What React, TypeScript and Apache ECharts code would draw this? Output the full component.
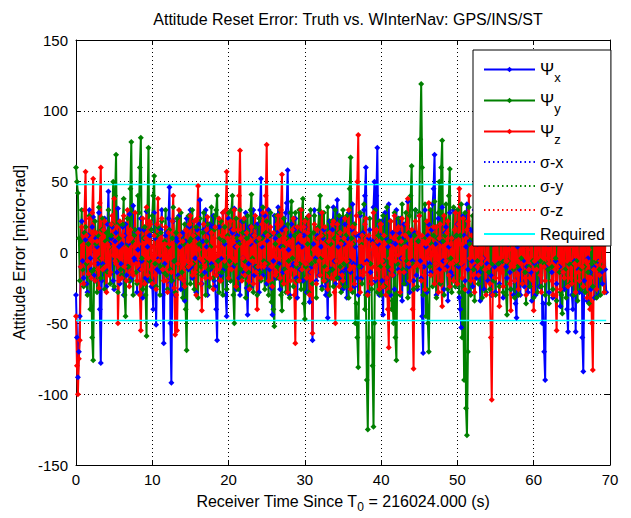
import React, { useEffect, useRef } from 'react';
import * as echarts from 'echarts';

// Sample spacing of the recorded reset errors (s)
const T_STEP = 0.125;

const TITLE = 'Attitude Reset Error: Truth vs. WInterNav: GPS/INS/ST';
const X_NAME = '{n|Receiver Time Since T}{s|0}{n| = 216024.000 (s)}';
const Y_NAME = 'Attitude Error [micro-rad]';

const LEGEND_NAMES = ['Ψx', 'Ψy', 'Ψz', 'σ-x', 'σ-y', 'σ-z', 'Required'];

// Ψx (blue) attitude reset error, micro-rad (one row = 5 s)
const PSI_X = [
  -30, -60, -88, -70, -45, -10, 22, -6, -18, 14, 9, -22, -28, 12, 30, -4, -12, 18, 25, -16, -20, 10, 4, -8, 28, -40, -78, -20, -8, 16, 24, -12, -24, 20, 43, 6, -15, 10, 18, -20,
  -26, 8, 14, -14, 31, 4, -22, -8, 6, 18, -30, 12, 20, -16, -10, 6, 27, -20, -18, 10, 33, -4, -6, 14, -28, 2, 16, -12, 24, -6, -32, 16, 10, -18, 29, 4, -20, 12, 12, -24,
  -24, -40, 28, 10, -51, -12, 18, -4, -14, 16, 30, -30, -64, -8, 12, 14, -20, 24, 46, -50, -92, -20, 22, -6, -30, 10, 8, -16, 26, 4, -26, 12, 14, -20, -34, 8, 24, -10, -12, 18,
  30, -10, -18, 12, 22, -4, -28, 16, 10, 20, 37, -6, -22, 8, 16, -14, 30, 4, -30, 14, 20, -12, -8, 18, 26, -20, -24, -40, -62, -6, 18, 10, -16, -4, 28, -12, 6, -30, -45, 10,
  24, -6, -20, 16, 14, -10, 31, 4, -26, 12, 8, -18, -30, 10, 22, -4, -14, 14, 28, -25, -44, -8, 18, 6, -24, 12, 30, -16, -10, 8, 20, -12, -28, 30, 52, 4, -16, 12, 26, -10,
  -22, 8, 30, -12, 12, -25, -44, -6, 26, 10, -18, 14, 32, -8, -26, 4, 16, -14, -12, 18, 28, 35, 58, 2, -30, 12, 20, -10, -8, 16, 24, -18, -32, 6, 14, -12, 30, 4, -20, 12,
  18, -8, -28, 14, 26, -35, -14, -10, -62, 6, 30, -4, -20, 12, 10, -16, 28, 4, -24, 10, 16, -20, -30, -20, -46, 8, 22, -12, -12, 16, 32, -6, -22, 20, 37, 4, -18, 10, 24, -14,
  -26, 6, 20, -12, -32, 10, 28, -6, -14, 16, 34, -8, -24, 4, 12, -18, -30, 12, 26, -10, -18, 14, 30, 40, 60, -6, -28, 10, 16, -14, -22, 8, 32, 50, -20, 40, 74, 6, -30, 12,
  22, -20, -44, -6, 28, 10, -18, 4, 34, -12, -30, 8, 14, -16, -26, 6, 30, -8, -12, 14, 24, -4, -34, 10, 20, -14, -22, 6, 36, -10, -28, 12, 16, -6, -20, 14, 30, -16, -26, 8,
  26, -6, -18, -45, -71, -10, 30, 4, -28, 12, 20, -8, -14, 16, 34, 45, 69, 6, -30, 10, 24, -12, -22, 8, 32, -6, -26, 14, 18, -10, -34, 4, 28, -14, -16, 10, 30, -8, -24, 12,
  20, -10, -32, -40, -53, -8, 26, 12, -20, 4, 34, -12, -28, 8, 16, -6, -24, 14, 30, -10, -18, 6, 28, -14, -34, 10, 22, -4, -26, 16, 32, -8, -20, 12, 24, -16, -30, 6, 18, -10,
  -28, 10, 26, -8, -22, 14, 30, -6, -32, 12, 20, -10, -18, 6, 28, -14, -26, 10, 34, -30, -20, -36, -46, 4, 24, -12, -30, 8, 18, -6, -24, 16, 32, -10, -28, 6, 22, -14, -34, 10,
  26, -8, -30, 12, 20, -6, -24, 14, 30, -50, -36, -70, -90, -10, 24, 6, -28, 12, 18, -14, -32, 8, 26, -6, -22, 14, 30, -10, -38, 6, 20, -14, -26, 10, 28, -40, -56, -8, 22, 12,
  -30, -40, 24, -6, -56, 8, 18, -12, -28, 6, 30, -60, -84, -20, 22, 10, -34, -4, 20, -14, -26, 8, 28, -10, -32, 12, 16, -6, -30, 10, 24, -14, -22, 8, 26, -12, -28,
];

// Ψy (green) attitude reset error, micro-rad (one row = 5 s)
const PSI_Y = [
  60, 50, 42, 10, -20, 8, 30, -12, -24, 14, 18, -8, -30, 6, 26, -40, -14, -60, -76, -12, 22, 6, -28, 12, 32, -4, -18, 16, 24, -10, -26, 8, 14, -14, 30, 4, -22, 12, 20, 50,
  -24, 40, 69, -6, -28, 10, 20, -12, -16, 20, 38, -30, -45, 4, 24, -10, -20, 45, 78, 8, -30, 12, 16, -14, -22, 40, 28, 60, 81, -4, -26, 10, 18, -30, -59, 30, 74, -6, -20, 16,
  26, 40, 54, -8, -24, 12, 18, -6, -30, 14, 22, -10, -14, 8, 30, -16, -26, 4, 16, -12, -20, 10, 32, -6, -28, 14, 24, -8, -18, 12, 28, -14, -32, 6, 20, -40, -69, -10, 26, 8,
  -22, 10, 30, -8, -26, 12, 18, -14, -32, 6, 24, -10, -16, 14, 28, -6, -30, 8, 20, -12, -24, 4, 32, -10, -18, 16, 26, 30, 40, -6, -28, 10, 22, -14, -30, 8, 18, -10, -26, 12,
  28, -6, -20, 30, 40, -30, -50, -8, 24, 10, -26, 6, 30, -12, -18, 14, 22, -6, -32, 10, 26, -14, -24, 30, 41, -4, -28, 12, 18, -10, -30, 8, 24, -14, -20, 10, 32, -6, -26, 14,
  22, -8, -30, 12, 28, -35, -22, -40, -52, 6, 26, -10, -18, 12, 30, -30, -41, 4, 24, -12, -28, 10, 20, -6, -32, 28, 36, -4, -24, 12, 28, -10, -20, 14, 30, -8, -26, 30, 38, -36,
  -47, -10, 24, 6, -28, 12, 30, -8, -22, 14, 26, -6, -32, 10, 18, 30, 40, -4, -26, 12, 28, -10, -20, 8, 32, -14, -30, 6, 22, -12, -24, 10, 30, -6, -18, 14, 26, -10, -28, 8,
  30, -8, -24, 12, 26, -6, -32, 45, 67, 10, -28, 6, 20, -50, -36, -60, -81, -10, 28, 6, -22, 12, 34, -40, -30, -90, -125, -60, 24, -8, -26, -80, -123, -50, 30, 8, -28, 12, 22, -10,
  -30, 10, 26, -6, -24, 12, 32, -10, -28, 8, 22, -40, -34, -50, 28, -60, -76, -8, 24, 10, -30, 6, 34, -12, -22, 8, 28, -6, -32, 14, 26, 40, 61, -8, -26, 12, 30, -10, -24, 8,
  28, 80, 119, 60, -30, 10, 34, -45, -26, -50, -70, -10, 30, 6, -24, 12, 36, -8, -32, 10, 28, 50, -22, 60, 79, 8, -30, 12, 34, -6, -26, 40, 59, -4, -28, 10, 32, -8, -24, 12,
  30, -8, -28, 12, 34, -60, -24, -90, 28, -110, -129, -70, 32, 6, -30, 10, 26, -12, -34, 8, 30, -6, -22, 14, 28, -10, -32, 8, 24, -12, -28, 6, 34, -14, -26, 10, 30, -8, -20, 12,
  -30, 10, 26, -8, -24, 12, 32, -6, -28, 14, 22, -30, -44, -6, 30, 10, -26, 8, 28, -12, -32, 6, 24, -10, -30, 12, 34, -4, -22, 10, 26, -14, -36, 8, 30, -10, -24, 12, 28, -6,
  -32, 8, 26, -10, -28, 12, 30, -6, -24, 10, 34, -8, -30, 14, 22, -12, -36, 6, 28, -10, -26, 12, 30, -4, -34, 8, 24, -14, -28, -30, -43, 6, 26, -12, -32, 10, 30, -8, -22, 12,
  28, -8, -30, 12, 24, -6, -34, 10, 30, -12, -26, 8, 32, -10, -28, 6, 22, -14, -36, 10, 30, -8, -24, 12, 28, -6, -32, 10, 26, -12, -30, 8, 24, -10, -28, 12, 30,
];

// Ψz (red) attitude reset error, micro-rad (one row = 5 s)
const PSI_Z = [
  -45, -80, -100, -75, -62, -10, 18, 5, -22, 30, 57, 12, -6, -15, 24, 2, -18, 28, 52, -8, -20, 14, 8, -12, -25, 35, 60, -4, -12, 16, 22, -10, -28, 6, 4, -16, -14, 20, 26, -2,
  38, -6, -8, 18, -50, -20, 22, -4, -18, 12, 26, -10, 3, -20, 30, 8, -24, 16, 10, -14, -16, 4, 28, -8, -20, 14, 6, -30, -55, -12, 24, 6, -22, 10, 32, -16, -4, 22, 20, -12,
  -22, 4, 12, -16, -26, 20, 38, -6, -2, 10, 24, -12, -20, 6, 18, -20, -28, 14, 6, -4, -14, 22, 40, -25, -58, -30, -55, -8, 30, 12, -18, -2, 8, -20, -24, 16, 15, -6, -10, 20,
  26, -8, -16, 12, 22, -14, -30, 24, 47, 2, -4, -22, -41, -6, 20, -10, -18, 16, 25, -4, 2, -18, 14, 8, -26, 10, 18, -16, -12, 4, 24, -20, -20, 12, 28, -2, -6, 30, 57, 10,
  -18, 8, 22, -12, -4, 16, 30, -6, -24, 4, 16, 40, 72, 10, -20, -4, 24, -16, -12, 14, 6, -20, -26, 8, 18, -6, -22, 12, 26, -14, -40, -10, 10, 6, -18, 20, 28, -10, -8, 40,
  76, 12, -20, 6, 18, -10, -24, 14, 2, -16, -14, 20, 26, -4, -18, 30, 55, 2, -22, 10, 16, -14, -28, 6, 8, -20, -12, 16, 24, -30, -64, -8, 18, 4, -20, 12, 30, -12, -6, 18,
  22, -8, -18, 14, 26, -30, -4, -14, -57, 2, 20, -10, -22, 16, 10, -6, -16, 12, 28, -2, -20, 18, 4, -12, -26, 8, 14, -4, -18, 20, 22, -28, -50, -6, 20, 10, -24, 14, 6, -16,
  -20, 10, 24, -4, -6, 16, 30, -12, -26, 6, 18, -10, -22, 14, 26, 50, 83, 8, -28, 4, 12, -16, -14, 20, 24, -8, -30, 12, 2, -18, -22, 6, 28, -10, -18, 16, 8, -12, -26, 20,
  20, -6, -24, 12, 6, -30, -18, -40, -67, -4, 22, -12, -16, 10, 26, -6, -2, 16, 18, -14, -28, 8, 24, -4, -14, 12, 4, 20, 38, -8, -20, 6, 16, -40, -82, -10, 22, 4, -8, 14,
  26, -10, -20, 12, 8, -16, -26, 6, 22, -4, 35, 10, -16, -2, 4, 18, -22, -8, 18, -14, -28, 10, 20, -20, -38, 4, 26, -12, -6, 14, 22, -16, -24, 6, 10, -8, -20, 16, 28, -6,
  -22, 20, 45, 6, -8, -18, 24, -6, -26, 10, 16, 22, 40, -4, -20, 12, 4, -16, -28, 8, 18, -10, -16, 14, 26, -8, -4, 16, 20, -12, -30, 6, 16, -10, -22, -60, -104, -30, 24, -6,
  -18, 10, 6, -12, -38, -4, 20, -14, -24, 8, 26, -6, -6, 14, 18, -22, -41, 2, 22, -10, -20, 12, 8, -16, -26, 6, 16, -8, -22, 14, 24, -18, -30, 4, 2, -12, -18, 10, 26, -20,
  -41, -6, 20, -12, -4, 10, 18, -16, -28, 6, 26, -10, -20, 12, 22, -4, -8, 16, 24, -20, -30, 8, 18, -30, -55, -10, 6, 12, -26, 4, 20, -14, -18, 10, 28, -6, -24, 14, 4, -18,
  -22, 10, 24, -8, -28, 12, 8, -14, -20, 6, 26, -10, -24, 14, 22, -6, -32, 4, 2, -40, -18, -50, -83, -12, 24, -4, -26, 10, 18, -16, -6, 12, 20, -10, -28, 6, 16,
];

// Requirement bound (micro-rad) and its time span (s)
const REQUIRED = 48;
const REQ_SPAN = [0, 69.5];

const FONT = '"Liberation Sans", Arial, Helvetica, sans-serif';

const BLUE = '#0000ff';
const GREEN = '#008000';
const RED = '#ff0000';
const CYAN = '#00ffff';
const CLEAR = 'rgba(0,0,0,0)';

function toPairs(vals: number[]) {
  return vals.map((v, i) => [i * T_STEP, v]);
}

function psiSeries(name: string, vals: number[], color: string) {
  return {
    name,
    type: 'line',
    data: toPairs(vals),
    xAxisIndex: 0,
    yAxisIndex: 0,
    symbol: 'diamond',
    symbolSize: 6,
    showSymbol: true,
    showAllSymbol: true,
    lineStyle: { color, width: 2 },
    itemStyle: { color, borderWidth: 0 },
    emphasis: { disabled: true },
    silent: true,
  };
}

function sigmaSeries(name: string, color: string) {
  return {
    name,
    type: 'line',
    data: [],
    symbol: 'none',
    lineStyle: { color, width: 1.5, type: [1.5, 3] },
    itemStyle: { color: CLEAR },
    emphasis: { disabled: true },
    silent: true,
  };
}

function reqSeries(sign: number) {
  return {
    name: 'Required',
    type: 'line',
    data: REQ_SPAN.map((t) => [t, sign * REQUIRED]),
    symbol: 'none',
    lineStyle: { color: CYAN, width: 1.5 },
    itemStyle: { color: CLEAR },
    emphasis: { disabled: true },
    silent: true,
    z: 3,
  };
}

const legendFormatter = (name: string) => {
  if (name.startsWith('Ψ')) return `{p|Ψ}{s|${name.slice(1)}}`;
  return `{t|${name}}`;
};

export default function App() {
  const ref = useRef<HTMLDivElement>(null);
  useEffect(() => {
    if (!ref.current) return;
    const chart = echarts.init(ref.current, undefined, { renderer: 'svg' });
    const axisCommon = {
      axisLine: { show: true, onZero: false, lineStyle: { color: '#000', width: 1 } },
      axisTick: { show: true, inside: true, length: 5, lineStyle: { color: '#000' } },
    };
    chart.setOption({
      animation: false,
      backgroundColor: '#fff',
      title: {
        text: TITLE,
        left: 343,
        top: 6,
        textAlign: 'center',
        textStyle: { fontSize: 16, fontWeight: 'normal', color: '#000', fontFamily: FONT },
      },
      grid: { left: 76, right: 21, top: 40, bottom: 50, show: false },
      legend: {
        data: LEGEND_NAMES,
        orient: 'vertical',
        left: 473,
        top: 50,
        backgroundColor: '#fff',
        borderColor: '#000',
        borderWidth: 1,
        borderRadius: 0,
        padding: [11, 6, 4, 10],
        itemGap: 8,
        itemWidth: 51,
        itemHeight: 7,
        formatter: legendFormatter,
        textStyle: {
          color: '#000',
          fontFamily: FONT,
          rich: {
            p: { fontSize: 17, lineHeight: 26, verticalAlign: 'middle', fontFamily: FONT, color: '#000' },
            s: { fontSize: 13, verticalAlign: 'middle', padding: [16, 0, 0, 0], fontFamily: FONT, color: '#000' },
            t: { fontSize: 16, lineHeight: 20, fontFamily: FONT, color: '#000' },
          },
        },
      },
      xAxis: [
        {
          type: 'value',
          min: 0,
          max: 70,
          interval: 10,
          position: 'bottom',
          ...axisCommon,
          axisLabel: { color: '#000', fontSize: 15, margin: 7, fontFamily: FONT },
          splitLine: { show: true, lineStyle: { color: '#000', width: 1, type: [1, 3] } },
          name: X_NAME,
          nameLocation: 'middle',
          nameGap: 24,
          nameTextStyle: {
            color: '#000',
            fontFamily: FONT,
            rich: {
              n: { fontSize: 16, fontFamily: FONT, color: '#000', verticalAlign: 'middle' },
              s: { fontSize: 12, fontFamily: FONT, color: '#000', verticalAlign: 'middle', padding: [12, 0, 0, 0] },
            },
          },
        },
        {
          type: 'value',
          min: 0,
          max: 70,
          interval: 10,
          position: 'top',
          ...axisCommon,
          axisLabel: { show: false },
          splitLine: { show: false },
        },
      ],
      yAxis: [
        {
          type: 'value',
          min: -150,
          max: 150,
          interval: 50,
          position: 'left',
          ...axisCommon,
          axisLabel: { color: '#000', fontSize: 15, margin: 8, fontFamily: FONT },
          splitLine: { show: true, lineStyle: { color: '#000', width: 1, type: [1, 3] } },
          name: Y_NAME,
          nameLocation: 'middle',
          nameGap: 46,
          nameTextStyle: { color: '#000', fontSize: 16, fontFamily: FONT },
        },
        {
          type: 'value',
          min: -150,
          max: 150,
          interval: 50,
          position: 'right',
          ...axisCommon,
          axisLabel: { show: false },
          splitLine: { show: false },
        },
      ],
      series: [
        psiSeries('Ψx', PSI_X, BLUE),
        psiSeries('Ψy', PSI_Y, GREEN),
        psiSeries('Ψz', PSI_Z, RED),
        sigmaSeries('σ-x', BLUE),
        sigmaSeries('σ-y', GREEN),
        sigmaSeries('σ-z', RED),
        reqSeries(1),
        reqSeries(-1),
      ],
    });
    return () => chart.dispose();
  }, []);
  return (
    <div
      ref={ref}
      style={{ position: 'absolute', left: 0, top: 0, width: 631, height: 518, background: '#fff' }}
    />
  );
}
